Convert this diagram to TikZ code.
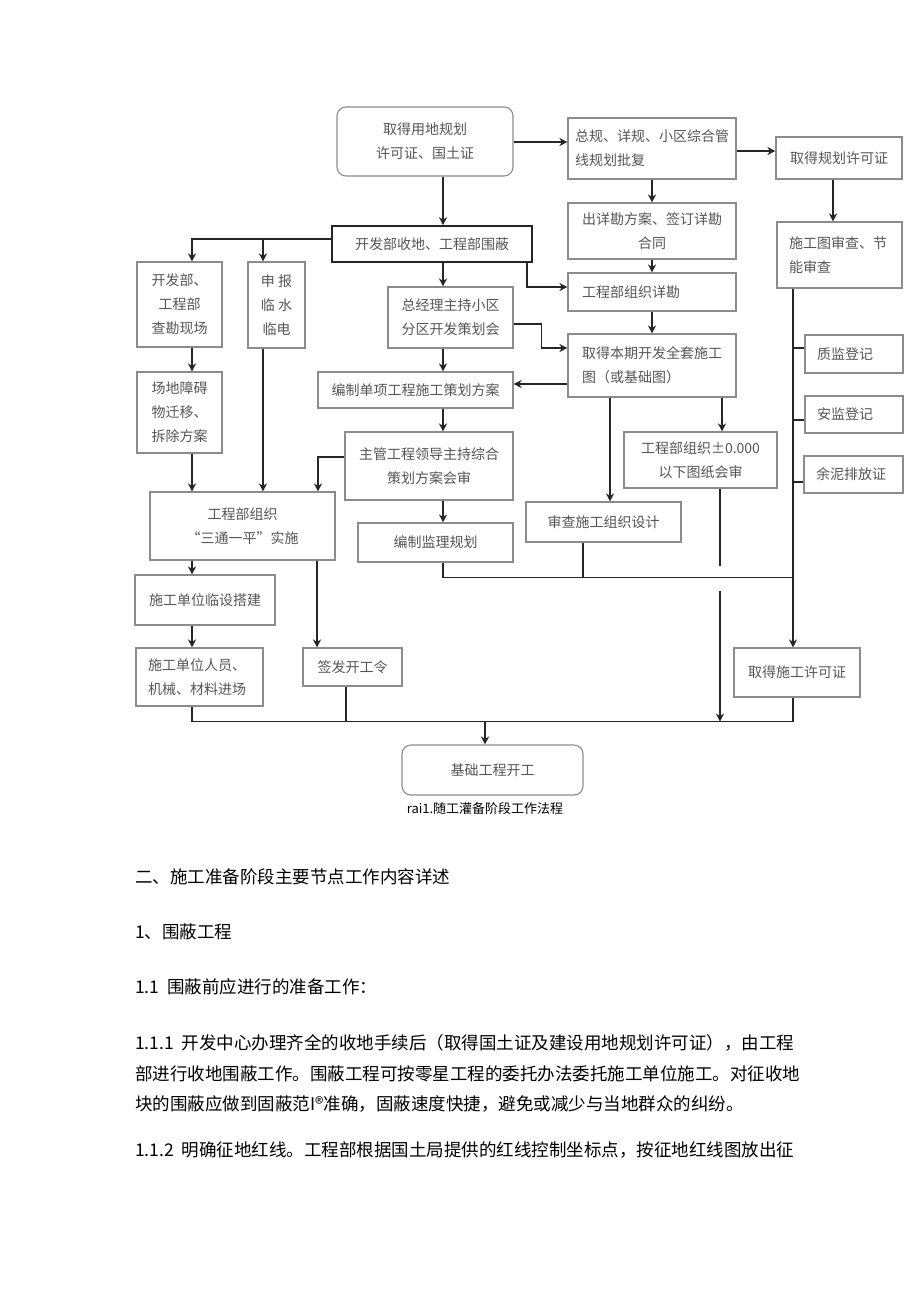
\documentclass[tikz,border=0pt]{standalone}
\usepackage{fontspec}
\newfontfamily\cjk{Noto Sans CJK SC}
\usetikzlibrary{calc,arrows.meta}
\definecolor{boxgray}{HTML}{8C8C8C}
\definecolor{txtgray}{HTML}{555555}
\definecolor{linec}{HTML}{262626}
\begin{document}
\begin{tikzpicture}[x=1pt,y=-1pt,
  box/.style={draw=boxgray, line width=1.1pt, inner sep=0pt, align=center, text=txtgray, font=\cjk\fontsize{14}{24}\selectfont},
  lbox/.style={box, align=left},
  arr/.style={draw=linec, line width=1.4pt, -{Stealth[length=8pt,width=8pt,inset=2.5pt]}},
  ln/.style={draw=linec, line width=1.4pt},
  body/.style={anchor=west, inner sep=0pt, font=\cjk\fontsize{17.5}{20}\selectfont}
]
\useasboundingbox[fill=white] (0,0) rectangle (920,1301);

% ---- boxes ----
\node[box, minimum width=176pt, minimum height=69pt, rounded corners=9pt] (top) at (425,141.5) {取得用地规划\\许可证、国土证};
\node[box, draw=linec, line width=1.6pt, minimum width=200pt, minimum height=36pt] (kfb) at (432,244) {开发部收地、工程部围蔽};
\node[box, minimum width=85pt, minimum height=85pt] (ckxc) at (179.5,304.5) {开发部、\\工程部\\查勘现场};
\node[box, minimum width=57pt, minimum height=86pt] (sb) at (276.5,305) {申 报\\临 水\\临电};
\node[box, minimum width=125pt, minimum height=61pt] (zjl) at (450.5,317.5) {总经理主持小区\\分区开发策划会};
\node[lbox, text width=154pt, inner xsep=7pt, minimum height=61pt] (zg) at (652,148.5) {总规、详规、小区综合管\\线规划批复};
\node[box, minimum width=126pt, minimum height=42pt] (qdgh) at (839,158) {取得规划许可证};
\node[box, minimum width=168pt, minimum height=56pt] (cxk) at (652,231) {出详勘方案、签订详勘\\合同};
\node[lbox, text width=140pt, inner xsep=14pt, minimum height=38pt] (zk) at (652,292) {工程部组织详勘};
\node[lbox, text width=101pt, inner xsep=12pt, minimum height=66pt] (sgt) at (839.5,255) {施工图审查、节\\能审查};
\node[box, minimum width=85pt, minimum height=81pt] (cz) at (179.5,412.5) {场地障碍\\物迁移、\\拆除方案};
\node[box, minimum width=195pt, minimum height=36pt] (bzdx) at (415.5,390) {编制单项工程施工策划方案};
\node[lbox, text width=140pt, inner xsep=14pt, minimum height=63pt] (qdbq) at (652,365.5) {取得本期开发全套施工\\图（或基础图）};
\node[box, minimum width=168pt, minimum height=68pt] (zhuguan) at (429,466) {主管工程领导主持综合\\策划方案会审};
\node[box, minimum width=153pt, minimum height=56pt] (gcb0) at (700.5,460) {工程部组织±0.000\\以下图纸会审};
\node[box, minimum width=185pt, minimum height=68pt] (sctg) at (242.5,526) {工程部组织\\“三通一平”实施};
\node[box, minimum width=155pt, minimum height=39pt] (jl) at (435.5,542.5) {编制监理规划};
\node[box, minimum width=155pt, minimum height=40pt] (scsg) at (603.5,522) {审查施工组织设计};
\node[lbox, text width=74pt, inner xsep=12pt, minimum height=38pt] (zj) at (854,354) {质监登记};
\node[lbox, text width=74pt, inner xsep=12pt, minimum height=37pt] (aj) at (854,414.5) {安监登记};
\node[lbox, text width=75pt, inner xsep=12pt, minimum height=37pt] (yn) at (853.5,474.5) {余泥排放证};
\node[box, minimum width=140pt, minimum height=50pt] (lssj) at (205,600) {施工单位临设搭建};
\node[lbox, text width=103pt, inner xsep=12pt, minimum height=58pt] (ry) at (199.5,677) {施工单位人员、\\机械、材料进场};
\node[box, minimum width=99pt, minimum height=38pt] (qf) at (352.5,667) {签发开工令};
\node[box, minimum width=126pt, minimum height=49pt] (sgxk) at (797,672.5) {取得施工许可证};
\node[box, minimum width=181pt, minimum height=50pt, rounded corners=9pt] (jc) at (492.5,770) {基础工程开工};

\node[inner sep=0pt, font=\cjk\fontsize{13}{15}\selectfont] (cap) at (485,809) {rai1.随工灌备阶段工作法程};

% ---- connectors ----
\draw[arr] ($(top.south)+(18,0)$) -- ($(kfb.north)+(11,0)$);
\draw[arr] ($(top.east)+(0,0.5)$) coordinate (te) -- (te -| zg.west);
\draw[arr] ($(zg.east)+(0,2.5)$) coordinate (zge) -- (zge -| qdgh.west);
\draw[arr] (zg.south) -- (cxk.north);
\draw[arr] (cxk.south) -- (zk.north);
\draw[arr] (zk.south) -- (qdbq.north);
\draw[arr] ($(qdgh.south)+(-6,0)$) coordinate (q1) -- (q1 |- sgt.north);
\draw[arr] ($(kfb.west)+(0,-5)$) coordinate (k1) -| ($(ckxc.north)+(12.5,0)$);
\draw[arr] (k1) -| ($(sb.north)+(-13.5,0)$);
\draw[arr] ($(kfb.south)+(11,0)$) coordinate (k2) -- (k2 |- zjl.north);
\draw[arr] ($(kfb.south)+(95,0)$) |- ($(zk.west)+(0,-5)$);
\draw[arr] ($(zjl.east)+(0,6.5)$) -- ++(28,0) |- ($(qdbq.west)+(0,-17.5)$);
\draw[arr] ($(qdbq.west)+(0,18.5)$) coordinate (q2) -- (q2 -| bzdx.east);
\draw[arr] ($(ckxc.south)+(12.5,0)$) coordinate (c1) -- (c1 |- cz.north);
\draw[arr] ($(zjl.south)+(-7.5,0)$) coordinate (z1) -- (z1 |- bzdx.north);
\draw[arr] ($(bzdx.south)+(27.5,0)$) coordinate (b1) -- (b1 |- zhuguan.north);
\draw[arr] ($(zhuguan.south)+(14,0)$) coordinate (h1) -- (h1 |- jl.north);
\draw[arr] ($(zhuguan.west)+(0,-9)$) -| ($(sctg.north)+(75.5,0)$);
\draw[arr] ($(cz.south)+(12.5,0)$) coordinate (c2) -- (c2 |- sctg.north);
\draw[arr] ($(sb.south)+(-13.5,0)$) coordinate (s1) -- (s1 |- sctg.north);
\draw[arr] ($(qdbq.south)+(-42,0)$) coordinate (q3) -- (q3 |- scsg.north);
\draw[arr] ($(qdbq.south)+(70,0)$) coordinate (q4) -- (q4 |- gcb0.north);
\draw[arr] ($(sgt.south)+(-46.5,0)$) coordinate (rv) -- (rv |- sgxk.north);
\draw[ln] ($(zj.west)+(0,-6)$) coordinate (j1) -- (j1 -| rv);
\draw[ln] ($(aj.west)+(0,5.5)$) coordinate (j2) -- (j2 -| rv);
\draw[ln] ($(yn.west)+(0,7.5)$) coordinate (j3) -- (j3 -| rv);

\coordinate (ml) at ($(jl.south)+(0,15)$);
\draw[ln] ($(jl.south)+(7.5,0)$) |- (ml -| rv);
\draw[ln] ($(scsg.south)+(-20.5,0)$) coordinate (s2) -- (s2 |- ml);
\coordinate (bl) at ($(ry.south)+(0,15)$);
\draw[ln] ($(gcb0.south)+(19.5,0)$) coordinate (g0) -- ($(g0)+(0,77)$);
\draw[arr] ($(g0)+(0,102)$) -- (g0 |- bl);

\draw[arr] ($(sctg.south)+(-50.5,0)$) coordinate (t1) -- (t1 |- lssj.north);
\draw[arr] (t1 |- lssj.south) -- (t1 |- ry.north);
\draw[arr] ($(sctg.south)+(74.5,0)$) coordinate (t2) -- (t2 |- qf.north);
\draw[ln] ($(ry.south)+(-7.5,0)$) |- (bl -| rv) -- (rv |- sgxk.south);
\draw[ln] ($(qf.south)+(-6.5,0)$) coordinate (f1) -- (f1 |- bl);
\coordinate (jx) at ($(jc.north)+(-7.5,0)$);
\draw[arr] (jx |- bl) -- (jx);

% ---- body text ----
\node[body] (p1) at (135,877) {二、施工准备阶段主要节点工作内容详述};
\node[body] (p2) at (135,932) {1、围蔽工程};
\node[body] (p3) at (135,987) {1.1\ \ 围蔽前应进行的准备工作：};
\node[body] (p4) at (135,1043) {1.1.1\ \ 开发中心办理齐全的收地手续后（取得国土证及建设用地规划许可证），由工程};
\node[body] (p5) at (135,1074) {部进行收地围蔽工作。围蔽工程可按零星工程的委托办法委托施工单位施工。对征收地};
\node[body] (p6) at (135,1104) {块的围蔽应做到固蔽范I®准确，固蔽速度快捷，避免或减少与当地群众的纠纷。};
\node[body] (p7) at (135,1150) {1.1.2\ \ 明确征地红线。工程部根据国土局提供的红线控制坐标点，按征地红线图放出征};
\end{tikzpicture}
\end{document}
